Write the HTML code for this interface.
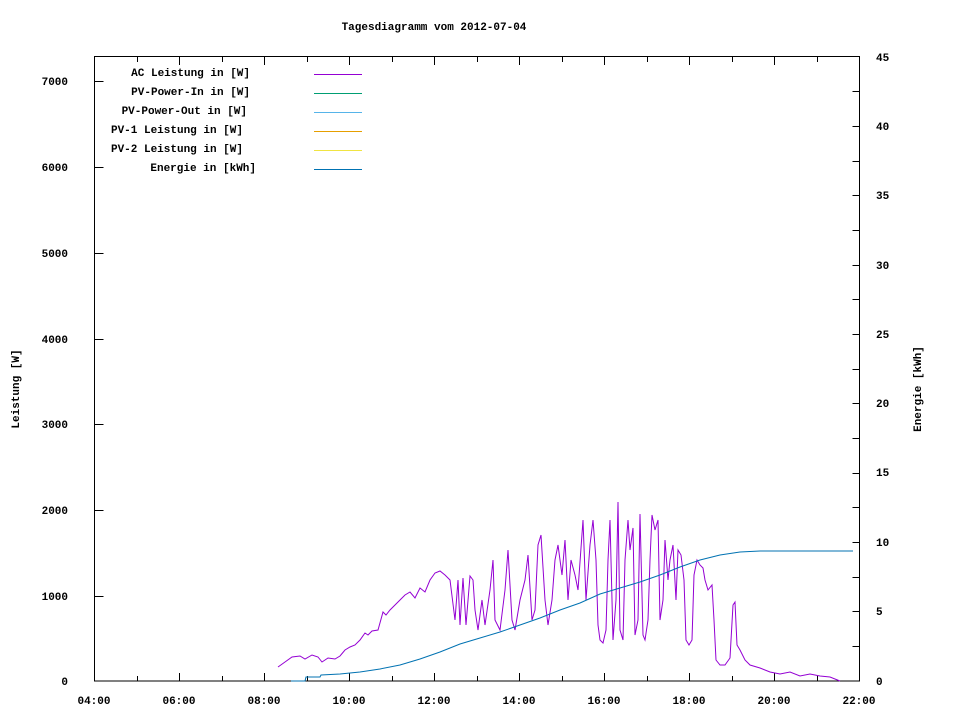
<!DOCTYPE html>
<html><head><meta charset="utf-8"><style>
html,body{margin:0;padding:0;background:#fff}
svg{display:block}
text{font-family:"Liberation Mono","DejaVu Sans Mono",monospace;font-size:11px;font-weight:bold;fill:#000}
</style></head><body>
<svg width="960" height="720" viewBox="0 0 960 720" xmlns="http://www.w3.org/2000/svg">
<rect x="0" y="0" width="960" height="720" fill="#fff"/>
<text x="434" y="30" text-anchor="middle">Tagesdiagramm vom 2012-07-04</text>
<g stroke="#000" stroke-width="1" fill="none">
<rect x="94.5" y="56.5" width="765" height="624.5"/>
<!-- left ticks -->
<path d="M94.5 596.5h9M94.5 510.5h9M94.5 424.5h9M94.5 339.5h9M94.5 253.5h9M94.5 167.5h9M94.5 81.5h9"/>
<!-- right ticks -->
<path d="M859.5 646.5h-7M859.5 611.5h-7M859.5 577.5h-7M859.5 542.5h-7M859.5 507.5h-7M859.5 473.5h-7M859.5 438.5h-7M859.5 403.5h-7M859.5 369.5h-7M859.5 334.5h-7M859.5 299.5h-7M859.5 265.5h-7M859.5 230.5h-7M859.5 195.5h-7M859.5 161.5h-7M859.5 126.5h-7M859.5 91.5h-7"/>
<!-- bottom / top ticks -->
<path d="M137.5 681v-5M179.5 681v-8M222.5 681v-5M264.5 681v-8M307.5 681v-5M349.5 681v-8M392.5 681v-5M434.5 681v-8M477.5 681v-5M519.5 681v-8M562.5 681v-5M604.5 681v-8M647.5 681v-5M689.5 681v-8M732.5 681v-5M774.5 681v-8M817.5 681v-5"/>
<path d="M137.5 57v5M179.5 57v8M222.5 57v5M264.5 57v8M307.5 57v5M349.5 57v8M392.5 57v5M434.5 57v8M477.5 57v5M519.5 57v8M562.5 57v5M604.5 57v8M647.5 57v5M689.5 57v8M732.5 57v5M774.5 57v8M817.5 57v5"/>
</g>
<g text-anchor="end">
<text x="68" y="685">0</text><text x="68" y="600">1000</text><text x="68" y="514">2000</text><text x="68" y="428">3000</text><text x="68" y="343">4000</text><text x="68" y="257">5000</text><text x="68" y="171">6000</text><text x="68" y="85">7000</text>
</g>
<g text-anchor="start">
<text x="876" y="685">0</text><text x="876" y="615">5</text><text x="876" y="546">10</text><text x="876" y="476">15</text><text x="876" y="407">20</text><text x="876" y="338">25</text><text x="876" y="269">30</text><text x="876" y="199">35</text><text x="876" y="130">40</text><text x="876" y="61">45</text>
</g>
<g text-anchor="middle">
<text x="94" y="704">04:00</text><text x="179" y="704">06:00</text><text x="264" y="704">08:00</text><text x="349" y="704">10:00</text><text x="434" y="704">12:00</text><text x="519" y="704">14:00</text><text x="604" y="704">16:00</text><text x="689" y="704">18:00</text><text x="774" y="704">20:00</text><text x="859" y="704">22:00</text>
</g>
<text transform="translate(19,389) rotate(-90)" text-anchor="middle">Leistung [W]</text>
<text transform="translate(921,389) rotate(-90)" text-anchor="middle">Energie [kWh]</text>
<!-- legend -->
<g text-anchor="end">
<text x="250" y="76">AC Leistung in [W]</text>
<text x="250" y="95">PV-Power-In in [W]</text>
<text x="247" y="114">PV-Power-Out in [W]</text>
<text x="243" y="133">PV-1 Leistung in [W]</text>
<text x="243" y="152">PV-2 Leistung in [W]</text>
<text x="256" y="171">Energie in [kWh]</text>
</g>
<g stroke-width="1">
<path d="M314 74.5h48" stroke="#9400d3"/>
<path d="M314 93.5h48" stroke="#009e73"/>
<path d="M314 112.5h48" stroke="#56b4e9"/>
<path d="M314 131.5h48" stroke="#e69f00"/>
<path d="M314 150.5h48" stroke="#f0e442"/>
<path d="M314 169.5h48" stroke="#0072b2"/>
</g>
<polyline fill="none" stroke="#9400d3" stroke-width="1" points="278,667 285,662 292,657 300,656 305,659 312,655 318,657 322,662 328,658 335,659 340,656 345,650 350,647 355,645 360,640 365,633 368,635 372,631 378,630 383,612 386,615 390,610 395,605 400,600 405,595 410,592 415,598 420,588 425,592 430,580 435,573 440,571 445,575 450,580 455,620 458,580 460,625 463,578 466,625 470,576 473,580 475,610 478,630 482,600 485,625 490,590 493,560 495,620 500,630 505,590 508,550 512,620 515,630 520,600 525,580 528,555 532,620 535,610 538,545 541,535 545,600 548,625 552,600 555,560 558,545 562,575 565,540 568,600 571,560 575,575 578,590 583,520 586,600 590,545 593,520 596,560 598,625 600,640 603,643 606,630 608,560 610,520 613,640 616,600 618,502 620,630 623,640 625,560 628,520 630,550 633,528 635,635 638,620 640,514 643,635 645,640 648,620 650,560 652,515 655,530 658,520 660,620 663,600 665,540 668,580 670,560 673,545 676,600 678,550 681,555 684,580 686,640 689,645 692,640 694,575 697,560 700,565 703,568 705,580 708,590 712,585 714,620 716,660 720,665 725,665 730,658 733,605 735,602 737,645 740,650 745,660 750,665 760,668 770,672 780,674 790,672 800,676 810,674 820,676 830,677 840,681"/>
<polyline fill="none" stroke="#0072b2" stroke-width="1" points="291,681 305,681 306,677 320,677 321,675 340,674 360,672 380,669 400,665 420,659 440,652 460,644 480,638 500,632 520,625 540,618 560,610 580,603 600,594 620,588 640,582 660,575 680,567 700,560 720,555 740,552 760,551 853,551"/>
</svg>
</body></html>
